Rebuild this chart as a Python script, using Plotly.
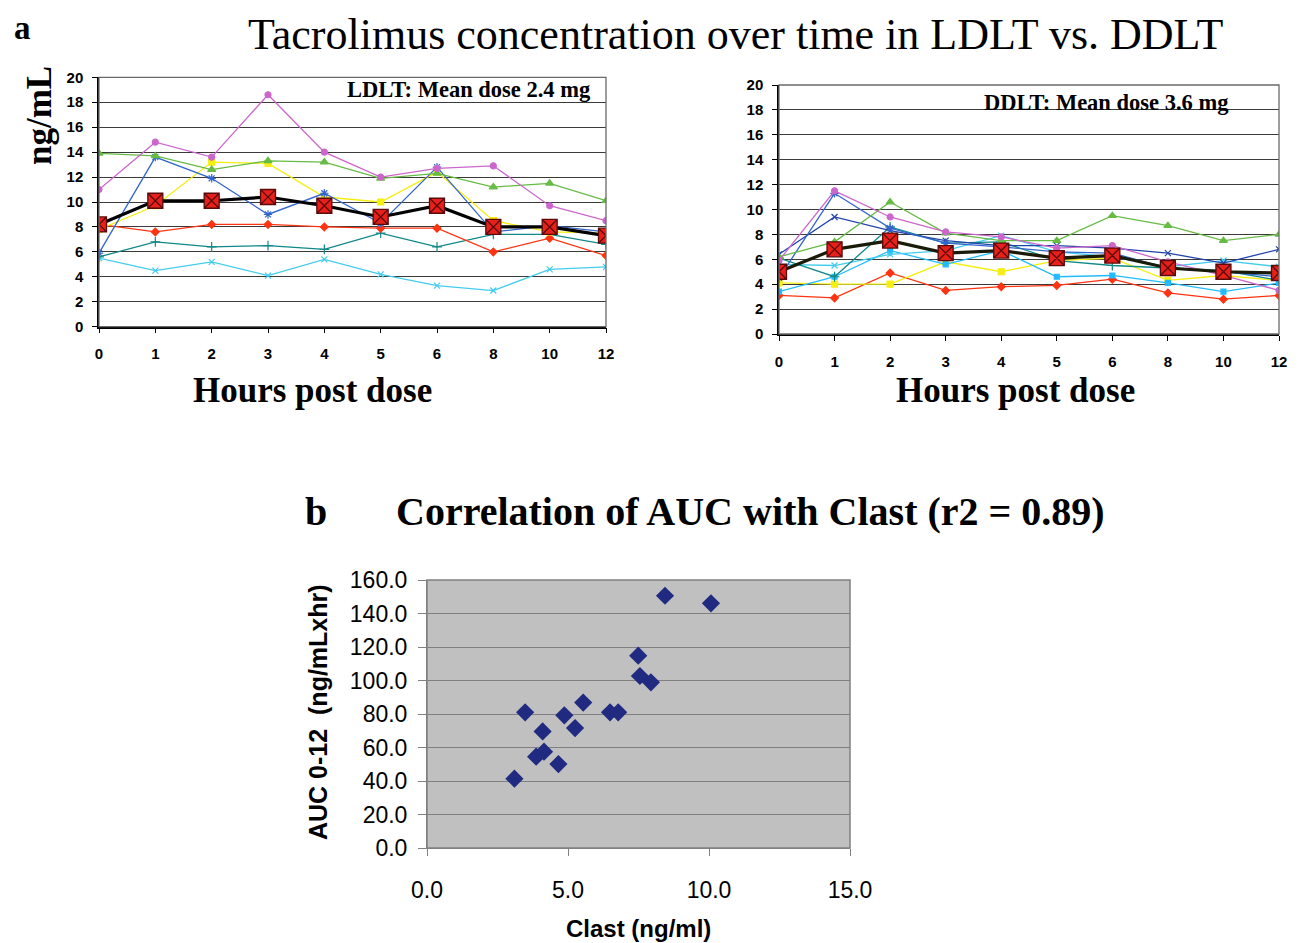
import plotly.graph_objects as go

# the page body has an 8px margin, so the figure starts at (8, 8)
OFF = 8
W, H = 1290, 935

hours = ["0", "1", "2", "3", "4", "5", "6", "8", "10", "12"]

# LDLT patients (ng/mL)
ldlt_magenta = [11.0, 14.8, 13.6, 18.6, 14.0, 12.0, 12.7, 12.9, 9.7, 8.5]
ldlt_green   = [13.9, 13.7, 12.6, 13.3, 13.2, 11.9, 12.3, 11.2, 11.5, 10.1]
ldlt_blue    = [5.9, 13.6, 11.9, 9.0, 10.7, 8.3, 12.8, 7.6, 8.1, 7.6]
ldlt_yellow  = [7.8, 9.7, 13.2, 13.1, 10.4, 10.0, 12.4, 8.5, 7.6, 7.5]
ldlt_red     = [8.2, 7.6, 8.2, 8.2, 8.0, 7.9, 7.9, 6.0, 7.1, 5.7]
ldlt_teal    = [5.6, 6.8, 6.4, 6.5, 6.2, 7.5, 6.4, 7.4, 7.4, 6.6]
ldlt_cyan    = [5.5, 4.5, 5.2, 4.1, 5.4, 4.2, 3.3, 2.9, 4.6, 4.8]
ldlt_mean    = [8.2, 10.1, 10.1, 10.4, 9.7, 8.8, 9.7, 8.0, 8.0, 7.3]

# DDLT patients (ng/mL)
ddlt_magenta = [5.9, 11.5, 9.4, 8.2, 7.8, 6.9, 7.1, 5.8, 4.7, 3.5]
ddlt_green   = [6.2, 7.4, 10.6, 8.1, 7.5, 7.5, 9.5, 8.7, 7.5, 8.0]
ddlt_blue_a  = [4.5, 11.3, 8.5, 7.3, 7.0, 6.6, 6.5, 5.3, 5.0, 4.6]
ddlt_blue_b  = [6.4, 9.4, 8.3, 7.5, 7.1, 7.1, 6.9, 6.5, 5.7, 6.8]
ddlt_teal    = [6.1, 4.6, 8.6, 7.3, 7.4, 5.9, 5.5, 5.3, 5.1, 4.3]
ddlt_cyan    = [5.6, 5.5, 6.4, 6.7, 7.9, 6.6, 6.2, 5.4, 5.9, 5.4]
ddlt_sky     = [3.4, 4.6, 6.7, 5.6, 6.7, 4.6, 4.7, 4.1, 3.4, 4.1]
ddlt_yellow  = [4.1, 4.0, 4.0, 5.8, 5.0, 5.9, 6.1, 4.3, 4.7, 4.3]
ddlt_red     = [3.1, 2.9, 4.9, 3.5, 3.8, 3.9, 4.4, 3.3, 2.8, 3.1]
ddlt_mean    = [5.0, 6.8, 7.5, 6.5, 6.7, 6.1, 6.3, 5.3, 5.0, 4.9]

# Correlation data
clast = [8.44, 10.07, 7.49, 7.55, 7.94, 5.54, 3.48, 6.49, 6.78, 4.87, 5.25, 4.10, 4.15, 3.87, 4.66, 3.10]
auc   = [150.6, 146.1, 114.8, 102.7, 98.9, 86.8, 81.0, 81.0, 81.0, 79.2, 71.6, 69.6, 57.5, 54.5, 50.1, 41.4]

y_ticks_conc = list(range(0, 21, 2))


def px(x):
    return (x - OFF) / W


def py(y):
    return 1 - (y - OFF) / H


fig = go.Figure()

MAG, GRN, BLU, YEL, RED, TEAL, CYAN, NAVY, SKY = (
    "#CC66CC", "#66BB44", "#3366CC", "#F5EE10", "#FF3311",
    "#108888", "#44CCEE", "#2244AA", "#22BBFF")


def add_series(y, color, symbol, size, xa, ya, width=1.3, lcolor=None):
    fig.add_trace(go.Scatter(
        x=hours, y=y, mode="lines+markers", xaxis=xa, yaxis=ya,
        line=dict(color=color, width=width),
        marker=dict(color=color, symbol=symbol, size=size,
                    line=dict(color=lcolor or color, width=1.2)),
        showlegend=False, hoverinfo="x+y"))


def add_mean(y, xa, ya, lc):
    fig.add_trace(go.Scatter(
        x=hours, y=y, mode="lines+markers", xaxis=xa, yaxis=ya,
        line=dict(color=lc, width=3.2),
        marker=dict(color="#E8201A", symbol="square-x", size=15,
                    line=dict(color="#5A0A0A", width=1.3)),
        showlegend=False))


# LDLT
add_series(ldlt_cyan, CYAN, "x-thin", 6, "x", "y")
add_series(ldlt_teal, TEAL, "cross-thin", 7, "x", "y")
add_series(ldlt_red, RED, "diamond", 6, "x", "y")
add_series(ldlt_yellow, YEL, "square", 6, "x", "y")
add_series(ldlt_blue, BLU, "asterisk", 7, "x", "y")
add_series(ldlt_green, GRN, "triangle-up", 7, "x", "y")
add_series(ldlt_magenta, MAG, "circle", 6, "x", "y")
add_mean(ldlt_mean, "x", "y", "#000000")

# DDLT
add_series(ddlt_red, RED, "diamond", 6, "x2", "y2")
add_series(ddlt_yellow, YEL, "square", 6, "x2", "y2")
add_series(ddlt_sky, SKY, "square", 5, "x2", "y2")
add_series(ddlt_cyan, CYAN, "x-thin", 6, "x2", "y2")
add_series(ddlt_teal, TEAL, "cross-thin", 7, "x2", "y2")
add_series(ddlt_blue_b, NAVY, "x-thin", 6, "x2", "y2")
add_series(ddlt_blue_a, BLU, "asterisk", 7, "x2", "y2")
add_series(ddlt_green, GRN, "triangle-up", 7, "x2", "y2")
add_series(ddlt_magenta, MAG, "circle", 6, "x2", "y2")
add_mean(ddlt_mean, "x2", "y2", "#1A1A08")

# Scatter
fig.add_trace(go.Scatter(
    x=clast, y=auc, mode="markers", xaxis="x3", yaxis="y3",
    marker=dict(symbol="diamond", size=14, color="#1F2A80",
                line=dict(color="#1F2A80", width=0)),
    showlegend=False))

tickfont_small = dict(family="Arial, Liberation Sans", size=15, color="#000", weight="bold")

line_x_common = dict(
    type="category", range=[0, 9], showgrid=False, showline=True,
    linecolor="#000", linewidth=1.5, ticks="outside", ticklen=5,
    tickcolor="#000", tickfont=tickfont_small, ticklabelstandoff=8,
    zeroline=False, fixedrange=True, automargin=False)
line_y_common = dict(
    range=[0, 20], tickvals=y_ticks_conc, showgrid=True, gridcolor="#3a3a3a",
    gridwidth=1.2, showline=True, linecolor="#000", linewidth=1.5,
    ticks="outside", ticklen=5, tickcolor="#000", tickfont=tickfont_small,
    ticklabelstandoff=6, zeroline=False, fixedrange=True, automargin=False)

L_dom_x = [px(99), px(606)]
L_dom_y = [py(326.7), py(77.3)]
R_dom_x = [px(779), px(1279)]
R_dom_y = [py(334), py(85)]
S_dom_x = [px(427), px(850)]
S_dom_y = [py(848), py(580)]

sfont = dict(family="Arial, Liberation Sans", size=23, color="#000")

fig.update_layout(
    width=W, height=H, autosize=False,
    margin=dict(l=0, r=0, t=0, b=0, pad=0, autoexpand=False),
    paper_bgcolor="white", plot_bgcolor="white",
    xaxis=dict(domain=L_dom_x, anchor="y", **line_x_common),
    yaxis=dict(domain=L_dom_y, anchor="x", **line_y_common),
    xaxis2=dict(domain=R_dom_x, anchor="y2", **line_x_common),
    yaxis2=dict(domain=R_dom_y, anchor="x2", **line_y_common),
    xaxis3=dict(domain=S_dom_x, anchor="y3", range=[0, 15], tickvals=[0, 5, 10, 15],
                tickformat=".1f", showgrid=False, showline=True, linecolor="#808080",
                linewidth=1, ticks="outside", ticklen=7, tickcolor="#808080",
                tickfont=sfont, ticklabelstandoff=14, zeroline=False,
                fixedrange=True, automargin=False),
    yaxis3=dict(domain=S_dom_y, anchor="x3", range=[0, 160], tickvals=list(range(0, 161, 20)),
                tickformat=".1f", showgrid=True, gridcolor="#808080", gridwidth=1,
                showline=True, linecolor="#808080", linewidth=1, ticks="outside",
                ticklen=8, tickcolor="#808080", tickfont=sfont,
                ticklabelstandoff=6, zeroline=False, fixedrange=True, automargin=False),
)

# plot-area backgrounds / borders
fig.add_shape(type="rect", xref="x3 domain", yref="y3 domain", x0=0, x1=1, y0=0, y1=1,
              fillcolor="#C0C0C0", line=dict(color="#808080", width=1.5), layer="below")
fig.add_shape(type="rect", xref="x domain", yref="y domain", x0=0, x1=1, y0=0, y1=1,
              line=dict(color="#6a6a6a", width=1.3), layer="above")
fig.add_shape(type="rect", xref="x2 domain", yref="y2 domain", x0=0, x1=1, y0=0, y1=1,
              line=dict(color="#6a6a6a", width=1.3), layer="above")

serif = "Liberation Serif, Times New Roman, serif"
sans = "Arial, Liberation Sans, sans-serif"


def ann(text, x, y, size, family=serif, bold=False, xanchor="center", angle=0,
        yanchor="middle"):
    fig.add_annotation(
        text=text, x=px(x), y=py(y), xref="paper", yref="paper",
        xanchor=xanchor, yanchor=yanchor, showarrow=False, textangle=angle,
        font=dict(family=family, size=size, color="#000",
                  weight="bold" if bold else "normal"))


ann("a", 22, 8.5, 33, bold=True, yanchor="top")
ann("Tacrolimus concentration over time in LDLT vs. DDLT", 735, 8.5, 44, yanchor="top")
ann("ng/mL", 40, 116, 35, bold=True, angle=-90)
ann("LDLT: Mean dose 2.4 mg", 593, 89, 22.5, bold=True, xanchor="right")
ann("DDLT: Mean dose 3.6 mg", 1231, 102, 22.5, bold=True, xanchor="right")
ann("Hours post dose", 312, 390, 35, bold=True)
ann("Hours post dose", 1015, 390, 35, bold=True)
ann("b", 316, 511, 40, bold=True)
ann("Correlation of AUC with Clast (r2 = 0.89)", 750, 511, 40, bold=True)
ann("AUC 0-12  (ng/mLxhr)", 318, 712, 25, family=sans, bold=True, angle=-90)
ann("Clast (ng/ml)", 638, 928, 24, family=sans, bold=True)

fig.write_html("out.html")
